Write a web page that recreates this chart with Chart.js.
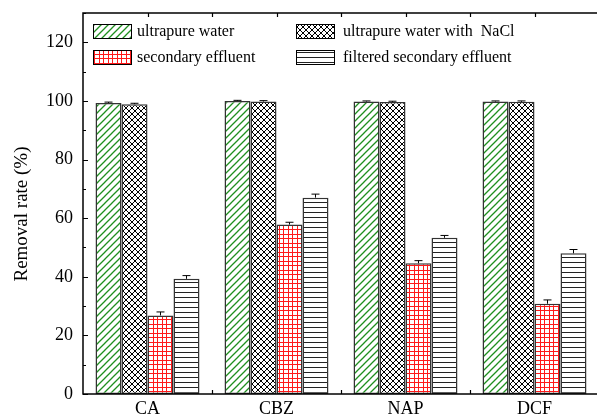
<!DOCTYPE html>
<html>
<head>
<meta charset="utf-8">
<script src="https://cdn.jsdelivr.net/npm/chart.js@4.4.1/dist/chart.umd.min.js"></script>
<style>
  html, body { margin: 0; padding: 0; background: #fff; overflow: hidden; }
  #wrap { width: 602px; height: 418px; }
</style>
</head>
<body>
<div id="wrap"><canvas id="c" width="602" height="418"></canvas></div>
<script>
// Compounds on the x axis
const categories = ['CA', 'CBZ', 'NAP', 'DCF'];

// Series labels
const seriesNames = [
  'ultrapure water',
  'ultrapure water with  NaCl',
  'secondary effluent',
  'filtered secondary effluent'
];

// Removal rate (%) per compound
const ultrapureWater     = [99.3, 100.0, 99.8, 99.8];
const ultrapureWaterNaCl = [98.9, 99.8, 99.6, 99.7];
const secondaryEffluent  = [26.8, 57.8, 44.6, 30.8];
const filteredEffluent   = [39.3, 67.0, 53.3, 48.0];

// Standard deviations (upper error bars)
const ultrapureWaterErr     = [0.3, 0.2, 0.2, 0.2];
const ultrapureWaterNaClErr = [0.3, 0.3, 0.3, 0.3];
const secondaryEffluentErr  = [1.2, 0.8, 0.9, 1.3];
const filteredEffluentErr   = [1.1, 1.2, 0.8, 1.3];

// Y axis
const yTickValues = [0, 20, 40, 60, 80, 100, 120];
const yMin = 0, yMax = 130;
const yTitle = 'Removal rate (%)';

const FONT = '"Liberation Serif", "Times New Roman", serif';

// ---- fill patterns ----
function makePattern(size, draw) {
  const c = document.createElement('canvas');
  c.width = size[0]; c.height = size[1];
  const g = c.getContext('2d');
  g.fillStyle = '#fff';
  g.fillRect(0, 0, c.width, c.height);
  draw(g, c.width, c.height);
  return g.createPattern(c, 'repeat');
}
const ctxMain = document.getElementById('c').getContext('2d');

const greenHatch = makePattern([7, 7], (g, w, h) => {
  g.strokeStyle = '#1f8f1f'; g.lineWidth = 1.3;
  g.beginPath();
  g.moveTo(-2, h + 2); g.lineTo(w + 2, -2);
  g.moveTo(-2, 2); g.lineTo(2, -2);
  g.moveTo(w - 2, h + 2); g.lineTo(w + 2, h - 2);
  g.stroke();
});
const crossHatch = makePattern([6, 6], (g, w, h) => {
  g.strokeStyle = '#000'; g.lineWidth = 1;
  g.beginPath();
  g.moveTo(0, 0); g.lineTo(w, h);
  g.moveTo(0, h); g.lineTo(w, 0);
  g.stroke();
});
const redGrid = makePattern([9, 9], (g, w, h) => {
  g.fillStyle = '#ff1a1a';
  g.fillRect(0, 0, 1, h); g.fillRect(4, 0, 1, h);
  g.fillRect(0, 0, w, 1); g.fillRect(0, 4, w, 1);
});
const horizLines = makePattern([5, 5], (g, w, h) => {
  g.fillStyle = '#222';
  g.fillRect(0, 2, w, 1);
});

const datasets = [
  { label: seriesNames[0], data: ultrapureWater,     err: ultrapureWaterErr,     backgroundColor: greenHatch },
  { label: seriesNames[1], data: ultrapureWaterNaCl, err: ultrapureWaterNaClErr, backgroundColor: crossHatch },
  { label: seriesNames[2], data: secondaryEffluent,  err: secondaryEffluentErr,  backgroundColor: redGrid },
  { label: seriesNames[3], data: filteredEffluent,   err: filteredEffluentErr,   backgroundColor: horizLines }
].map(d => Object.assign(d, {
  borderColor: '#333',
  borderWidth: 1.5,
  borderSkipped: false,
  categoryPercentage: 0.806,
  barPercentage: 1.0
}));

// upper error bars with caps
const errorBars = {
  id: 'errorBars',
  afterDatasetsDraw(chart) {
    const ctx = chart.ctx, y = chart.scales.y;
    ctx.save();
    ctx.strokeStyle = '#000';
    ctx.lineWidth = 1;
    chart.data.datasets.forEach((ds, i) => {
      const meta = chart.getDatasetMeta(i);
      meta.data.forEach((bar, j) => {
        const v = ds.data[j], e = ds.err[j];
        const yTop = y.getPixelForValue(v + e);
        const yBar = y.getPixelForValue(v);
        ctx.beginPath();
        ctx.moveTo(bar.x, yBar);
        ctx.lineTo(bar.x, yTop);
        ctx.moveTo(bar.x - 4, yTop);
        ctx.lineTo(bar.x + 4, yTop);
        ctx.stroke();
      });
    });
    ctx.restore();
  }
};

// frame, inward tick marks and the rotated y title
const frame = {
  id: 'frame',
  afterDraw(chart) {
    const ctx = chart.ctx, a = chart.chartArea;
    const x = chart.scales.x, y = chart.scales.y;
    ctx.save();
    ctx.strokeStyle = '#000';
    ctx.lineWidth = 1.5;
    ctx.strokeRect(a.left, a.top, a.right - a.left, a.bottom - a.top);
    ctx.lineWidth = 1.2;
    ctx.beginPath();
    for (let v = yMin; v <= yMax; v += 10) {
      const py = Math.round(y.getPixelForValue(v)) + 0.5;
      const len = (v % 20 === 0) ? 5 : 3;
      ctx.moveTo(a.left, py); ctx.lineTo(a.left + len, py);
    }
    const n = categories.length;
    for (let k = 0; k <= 2 * n; k++) {
      const px = Math.round(x.getPixelForValue(k / 2 - 0.5)) + 0.5;
      if (px <= a.left + 1 || px >= a.right - 1) continue;
      ctx.moveTo(px, a.top); ctx.lineTo(px, a.top + 4);
      if (k % 2 === 0) { ctx.moveTo(px, a.bottom); ctx.lineTo(px, a.bottom - 4); }
    }
    ctx.stroke();

    const t = chart.options.plugins.frame;
    ctx.translate(t.titleX, t.titleY);
    ctx.rotate(-Math.PI / 2);
    ctx.font = t.titleFont;
    ctx.fillStyle = '#000';
    ctx.textAlign = 'center';
    ctx.textBaseline = 'middle';
    ctx.fillText(yTitle, 0, 0);
    ctx.restore();
  }
};

// two-column legend inside the plot
const legendBoxes = {
  id: 'legendBoxes',
  afterDraw(chart) {
    const ctx = chart.ctx;
    const o = chart.options.plugins.legendBoxes;
    ctx.save();
    ctx.font = o.font;
    ctx.textBaseline = 'middle';
    chart.data.datasets.forEach((ds, i) => {
      const col = i % 2;
      const row = i < 2 ? 0 : 1;
      const bx = o.colX[col], by = o.rowY[row];
      ctx.fillStyle = ds.backgroundColor;
      ctx.fillRect(bx, by, o.boxW, o.boxH);
      ctx.strokeStyle = '#000';
      ctx.lineWidth = 1;
      ctx.strokeRect(bx + 0.5, by + 0.5, o.boxW, o.boxH);
      ctx.fillStyle = '#000';
      ctx.fillText(ds.label, o.textX[col], by + o.boxH / 2 + 1);
    });
    ctx.restore();
  }
};

new Chart(ctxMain, {
  type: 'bar',
  data: { labels: categories, datasets },
  plugins: [errorBars, frame, legendBoxes],
  options: {
    responsive: false,
    animation: false,
    layout: { padding: { top: 13, left: 0, right: 3, bottom: 0 } },
    plugins: {
      legend: { display: false },
      tooltip: { enabled: false },
      frame: { titleX: 22, titleY: 214, titleFont: '19px ' + FONT },
      legendBoxes: {
        font: '16px ' + FONT,
        colX: [93, 296], rowY: [24, 50], textX: [137, 343],
        boxW: 38, boxH: 14
      }
    },
    scales: {
      x: {
        type: 'category',
        offset: true,
        grid: { display: false, drawTicks: false },
        border: { display: false },
        ticks: { color: '#000', font: { family: FONT, size: 18 }, padding: 4, maxRotation: 0 },
        afterFit(s) { s.height = 24; s.paddingLeft = 0; s.paddingRight = 0; }
      },
      y: {
        min: yMin, max: yMax,
        grid: { display: false, drawTicks: false },
        border: { display: false },
        afterBuildTicks(s) { s.ticks = yTickValues.map(v => ({ value: v })); },
        ticks: { color: '#000', font: { family: FONT, size: 18 }, padding: 10 },
        afterFit(s) { s.width = 83; s.paddingTop = 0; s.paddingBottom = 0; }
      }
    }
  }
});
</script>
</body>
</html>
